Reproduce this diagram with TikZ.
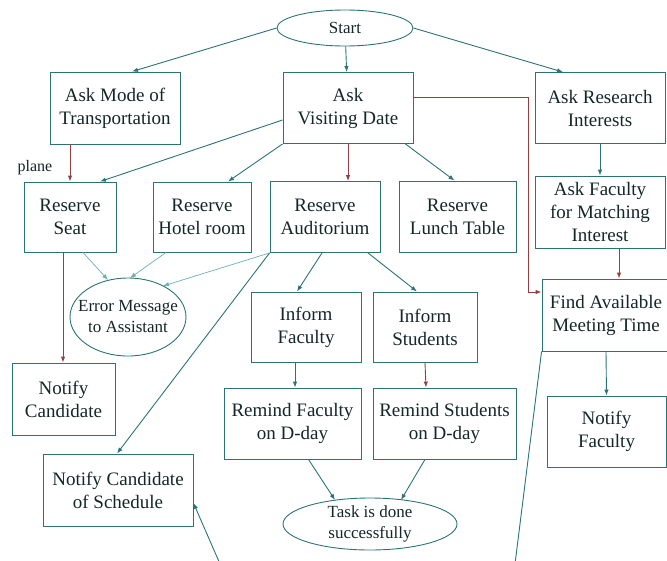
\documentclass[tikz,border=0pt]{standalone}
\usepackage{fontspec}
\setmainfont{Liberation Serif}
\usetikzlibrary{shapes.geometric,arrows.meta,calc}
\definecolor{teal1}{RGB}{45,115,115}
\definecolor{red1}{RGB}{145,65,65}
\definecolor{light1}{RGB}{110,175,175}
\definecolor{ink}{RGB}{20,38,38}
\begin{document}
\begin{tikzpicture}[x=1pt,y=-1pt,
  box/.style={draw=teal1,line width=0.9pt,rectangle,align=center,inner sep=0pt,
    text=ink,font=\fontsize{19}{23}\selectfont},
  oval/.style={draw=teal1,line width=0.9pt,ellipse,align=center,inner sep=0pt,
    text=ink,font=\fontsize{17}{21}\selectfont},
  conn/.style={draw=teal1,line width=0.9pt,-{Latex[length=6pt,width=4.5pt]}},
  connred/.style={conn,draw=red1},
  connlight/.style={conn,draw=light1,line width=0.7pt},
  lbl/.style={text=ink,font=\fontsize{16}{19}\selectfont,inner sep=0pt}]
\useasboundingbox (0,0) rectangle (667,560);
\clip (0,0) rectangle (667,560);
% nodes
\node[oval,minimum width=136pt,minimum height=36pt] (start) at (345,28) {Start};
\node[box,minimum width=130pt,minimum height=72pt] (askmode) at (115,108) {Ask Mode of\\Transportation};
\node[box,minimum width=130pt,minimum height=71pt] (askdate) at (348,108) {Ask\\Visiting Date};
\node[box,minimum width=130pt,minimum height=71pt] (askres) at (600,108) {Ask Research\\Interests};
\node[box,minimum width=92pt,minimum height=70pt] (seat) at (70,217) {Reserve\\Seat};
\node[box,minimum width=98pt,minimum height=70pt] (hotel) at (202,217) {Reserve\\Hotel room};
\node[box,minimum width=110pt,minimum height=71pt] (aud) at (325,217) {Reserve\\Auditorium};
\node[box,minimum width=117pt,minimum height=71pt] (lunch) at (457.5,216.5) {Reserve\\Lunch Table};
\node[box,minimum width=130pt,minimum height=72pt] (askfac) at (600,212) {Ask Faculty\\for Matching\\Interest};
\node[box,minimum width=128pt,minimum height=72pt] (find) at (606,315) {Find Available\\Meeting Time};
\node[oval,inner xsep=-12pt,minimum width=116pt,minimum height=78pt] (error) at (128,317) {Error Message\\to Assistant};
\node[box,minimum width=103pt,minimum height=72pt] (notcand) at (63.5,399) {Notify\\Candidate};
\node[box,minimum width=110pt,minimum height=70pt] (infac) at (306,327) {Inform\\Faculty};
\node[box,minimum width=104pt,minimum height=70pt] (instu) at (425,327) {Inform\\Students};
\node[box,minimum width=137pt,minimum height=71pt] (remfac) at (292.5,423.5) {Remind Faculty\\on D-day};
\node[box,minimum width=143pt,minimum height=71pt] (remstu) at (444.5,423.5) {Remind Students\\on D-day};
\node[box,minimum width=119pt,minimum height=71pt] (notfac) at (606.5,431.5) {Notify\\Faculty};
\node[box,minimum width=150pt,minimum height=72pt] (ncs) at (118,490) {Notify Candidate\\of Schedule};
\node[oval,inner xsep=-4pt,minimum width=174pt,minimum height=52pt] (task) at (370,524) {Task is done\\successfully};
\node[lbl] (plane) at (35,168) {plane};
\coordinate (offA) at (513,580);
\coordinate (offB) at (227,580);
% connectors
\draw[conn] (start.west) -- ($(askmode.north)+(17,0)$);
\draw[conn] (start) -- (askdate);
\draw[conn] (start.east) -- ($(askres.north)+(-37,0)$);
\draw[connred] (seat.north |- askmode.south) -- (seat.north);
\draw[conn] ($(askdate.west)+(0,12)$) -- ($(seat.north)+(30,0)$);
\draw[conn] (askdate.south west) -- ($(hotel.north)+(26,0)$);
\draw[connred] (askdate.south) -- (askdate.south |- aud.north);
\draw[conn] ($(askdate.south east)+(-8,0)$) -- ($(lunch.north)+(-3,0)$);
\draw[connred] ($(askdate.east)+(0,-11)$) -- ++(115,0) |- ($(find.west)+(0,-23)$);
\draw[conn] (askres.south) -- (askfac.north);
\draw[connred] ($(askfac.south)+(19,0)$) -- ($(find.north)+(13,0)$);
\draw[conn] (find.south) -- (notfac.north);
\draw[conn] (find.south west) -- (offA) -- (offB) -- ($(ncs.east)+(0,13)$);
\draw[connlight] ($(seat.south)+(13,0)$) -- ($(error.center)+(-20,-37)$);
\draw[connlight] ($(hotel.south)+(-36,0)$) -- ($(error.center)+(2,-39)$);
\draw[connlight] (aud.south west) -- ($(error.center)+(35,-31)$);
\draw[connred] ($(seat.south)+(-7,0)$) -- ($(notcand.north)+(-0.5,0)$);
\draw[conn] (aud.south west) -- ($(ncs.north)+(-1,0)$);
\draw[conn] ($(aud.south)+(-3,0)$) -- ($(infac.north)+(-9,0)$);
\draw[conn] ($(aud.south)+(43,0)$) -- ($(instu.north)+(-8,0)$);
\draw[conn] ($(infac.south)+(-11,0)$) -- ($(remfac.north)+(2.5,0)$);
\draw[connred] (instu.south) -- ($(remstu.north)+(-18.5,0)$);
\draw[conn] ($(remfac.south)+(16,0)$) -- ($(task.center)+(-35,-24)$);
\draw[conn] ($(remstu.south)+(-19.5,0)$) -- ($(task.center)+(31,-24)$);
\end{tikzpicture}
\end{document}
